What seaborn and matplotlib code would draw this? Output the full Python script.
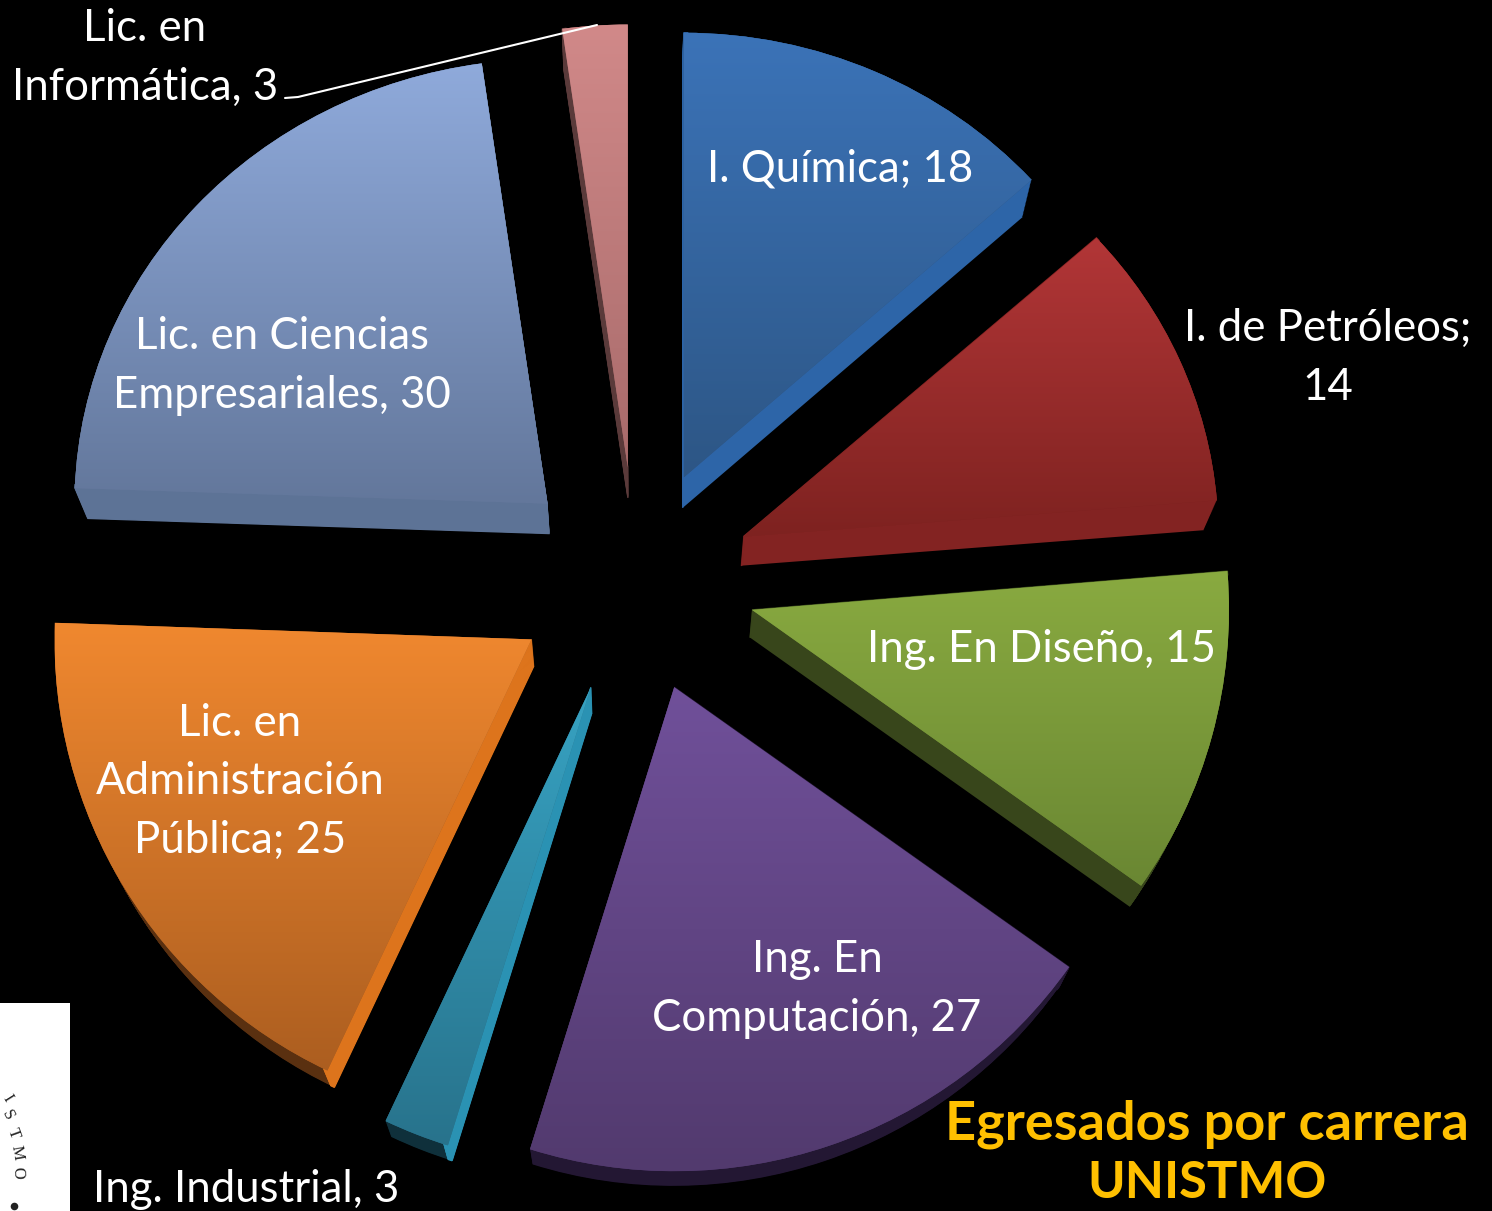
import numpy as np
import seaborn as sns
import matplotlib.pyplot as plt
from matplotlib.patches import Rectangle
from matplotlib.transforms import Affine2D

# --- Data ---
carreras = ['I. Química', 'I. de Petróleos', 'Ing. En Diseño', 'Ing. En\nComputación',
            'Ing. Industrial', 'Lic. en\nAdministración\nPública',
            'Lic. en Ciencias\nEmpresariales', 'Lic. en\nInformática']
egresados = [18, 14, 15, 27, 3, 25, 30, 3]
separadores = [';', ';\n', ',', ',', ',', ';', ',', ',']

# --- Colours ---
color_top = ['#3B73B8', '#B23637', '#89AA40', '#70509A', '#37A2C2', '#F0882F', '#8FAADB', '#D18989']
color_bottom = ['#2D5685', '#7E2220', '#6A8733', '#523A6E', '#28738C', '#AC5E20', '#63779B', '#A86B6B']
side_arc = ['#2D65A8', '#832322', '#38461B', '#231733', '#0F303B', '#5A3010', '#5D7396', '#5A3A3A']
side_radial = ['#2D65A8', '#832322', '#38461B', '#231733', '#2A92B3', '#DD741C', '#5D7396', '#5A3A3A']

# --- Layout (pixels) ---
W, H = 1492, 1211
CENTER = (640, H - 585)
EXPLODE = [120, 117, 113, 110, 113, 120, 123, 118]
RADII = [468, 475, 477, 484, 480, 477, 473, 471]
Y_SQUASH = [0.95, 0.94, 1, 1, 1, 1, 0.94, 0.94]  # the chart is tilted, top slices look flatter
NUDGE = [(-5, 2), (-4, -2), (3, -5), (-1, -2), (-8, -3), (-6, -8), (-1, 1), (-4, 0)]
DEPTH = 28
SHRINK = 0.0227
N_LAYERS = 30

sns.set_theme(style='dark', rc={'figure.facecolor': 'black', 'axes.facecolor': 'black'})
plt.rcParams['font.family'] = ['Lato', 'DejaVu Sans']

fig = plt.figure(figsize=(W / 100, H / 100), dpi=100)
ax = fig.add_axes([0, 0, 1, 1])


def squash(center, sy):
    return Affine2D().translate(-center[0], -center[1]).scale(1, sy).translate(*center)


def draw_pie(colors, t, edge_only=False, zorder=1):
    # t=0 is the front face, t=1 the back face of the extruded pie
    scale = 1 - SHRINK * t
    wedges, _ = ax.pie(
        egresados,
        colors=colors,
        startangle=90,
        counterclock=False,
        explode=[e * scale for e in EXPLODE],
        center=(CENTER[0], CENTER[1] - DEPTH * t),
        radius=470,
        wedgeprops={'linewidth': 0, 'zorder': zorder},
    )
    for w, r, sy, (dx, dy) in zip(wedges, RADII, Y_SQUASH, NUDGE):
        w.set_radius(r * scale)
        w.set_center((w.center[0] + dx, w.center[1] - dy))
        w.set_transform(squash(w.center, sy) + ax.transData)
        if edge_only:
            # keep only a sliver along the first radial edge
            w.set_theta1(w.theta2 - 0.5)
            w.set_edgecolor(w.get_facecolor())
            w.set_linewidth(1)
    return wedges


# Sides: sweep the pie from the back face to the front face
for t in np.linspace(1, 0, N_LAYERS):
    draw_pie(side_arc, t, zorder=1)
for t in np.linspace(1, 0, N_LAYERS):
    draw_pie(side_radial, t, edge_only=True, zorder=2)

# Front faces with a vertical gradient
front = draw_pie(color_top, 0, zorder=3)
for w, sy, top, bottom in zip(front, Y_SQUASH, color_top, color_bottom):
    w.set_facecolor(bottom)
    box = w.get_path().get_extents(squash(w.center, sy))
    gradient = np.array(sns.blend_palette([top, bottom], n_colors=256))[:, None, :]
    im = ax.imshow(gradient, extent=(box.x0, box.x1, box.y0, box.y1), origin='upper',
                   aspect='auto', zorder=4, interpolation='bilinear')
    im.set_clip_path(w)

ax.set_xlim(0, W)
ax.set_ylim(0, H)
ax.set_aspect('equal')
ax.axis('off')

# --- Labels ---
label_pos = [(840, 169), (1328, 358), (1041, 649), (817, 989),
             (246, 1189), (240, 782), (282, 366), (145, 58)]
for nombre, sep, valor, (x, y) in zip(carreras, separadores, egresados, label_pos):
    space = '' if sep.endswith('\n') else ' '
    ax.text(x, H - y, f'{nombre}{sep}{space}{valor}', color='white', fontsize=31.5,
            ha='center', va='center', linespacing=1.53, zorder=6)

# Leader line for Informática
ax.plot([285, 298, 597], [H - 98, H - 97, H - 25], color='white', lw=1.5, zorder=6)

# Title
ax.text(1207, H - 1124, 'Egresados por carrera', color='#FFC000', fontsize=39,
        fontweight='bold', ha='center', va='center', zorder=6)
ax.text(1207, H - 1183, 'UNISTMO', color='#FFC000', fontsize=36.5,
        fontweight='bold', ha='center', va='center', zorder=6)

# Logo corner
ax.add_patch(Rectangle((0, H - 1211), 70, 208, facecolor='white', edgecolor='none', zorder=7))
logo = [('I', 7, 1098, -58), ('S', 8, 1115, -62), ('T', 13, 1133, -70),
        ('M', 17, 1153, -80), ('O', 18, 1173, -88)]
for letra, x, y, rot in logo:
    ax.text(x, H - y, letra, color='#222222', fontsize=12, rotation=rot, ha='center', va='center',
            family='Liberation Serif', zorder=8)
ax.scatter([14], [H - 1206], s=30, color='#222222', linewidths=0, zorder=8)

plt.savefig('out.png', dpi=100, facecolor='black')
plt.close()
